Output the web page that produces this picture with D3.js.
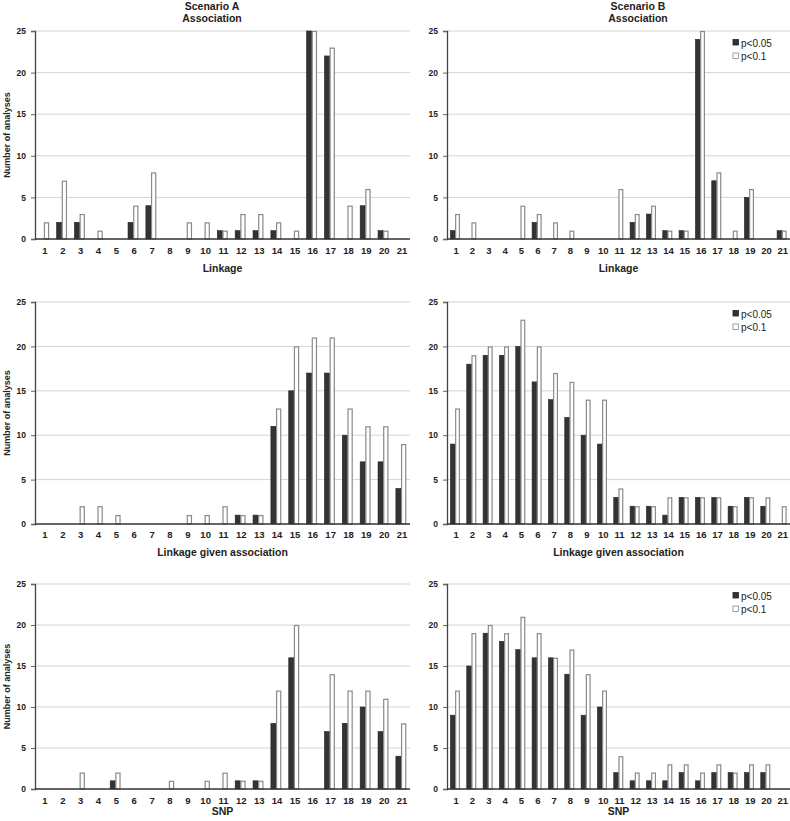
<!DOCTYPE html>
<html>
<head>
<meta charset="utf-8">
<script src="https://cdn.jsdelivr.net/npm/d3@7/dist/d3.min.js"></script>
<style>
  html, body { margin: 0; padding: 0; background: #fff; }
  svg { display: block; }
  text { font-family: "Liberation Sans", Arial, sans-serif; fill: #222; }
</style>
</head>
<body>
<script>
// ---- Data ----
const categories = d3.range(1, 22).map(String);
const yTicks = [0, 5, 10, 15, 20, 25];
const seriesNames = ["p<0.05", "p<0.1"];

// Scenario A
const aAssoc05 = [0,2,2,0,0,2,4,0,0,0,1,1,1,1,0,25,22,0,4,1,0];
const aAssoc10 = [2,7,3,1,0,4,8,0,2,2,1,3,3,2,1,25,23,4,6,1,0];
const aLga05   = [0,0,0,0,0,0,0,0,0,0,0,1,1,11,15,17,17,10,7,7,4];
const aLga10   = [0,0,2,2,1,0,0,0,1,1,2,1,1,13,20,21,21,13,11,11,9];
const aSnp05   = [0,0,0,0,1,0,0,0,0,0,0,1,1,8,16,0,7,8,10,7,4];
const aSnp10   = [0,0,2,0,2,0,0,1,0,1,2,1,1,12,20,0,14,12,12,11,8];

// Scenario B
const bAssoc05 = [1,0,0,0,0,2,0,0,0,0,0,2,3,1,1,24,7,0,5,0,1];
const bAssoc10 = [3,2,0,0,4,3,2,1,0,0,6,3,4,1,1,25,8,1,6,0,1];
const bLga05   = [9,18,19,19,20,16,14,12,10,9,3,2,2,1,3,3,3,2,3,2,0];
const bLga10   = [13,19,20,20,23,20,17,16,14,14,4,2,2,3,3,3,3,2,3,3,2];
const bSnp05   = [9,15,19,18,17,16,16,14,9,10,2,1,1,1,2,1,2,2,2,2,0];
const bSnp10   = [12,19,20,19,21,19,16,17,14,12,4,2,2,3,3,2,3,2,3,3,0];

const W = 790, H = 821;
const svg = d3.select("body").append("svg").attr("width", W).attr("height", H);

const colA = {x0: 35, x1: 410};
const colB = {x0: 447, x1: 790};
const rows = [
  {y0: 239, y1: 31, tickY: 254, labY: 272, label: "Linkage"},
  {y0: 524, y1: 302, tickY: 538, labY: 556, label: "Linkage given association"},
  {y0: 789, y1: 584, tickY: 804, labY: 815, label: "SNP"}
];

function panel(col, row, d05, d10, opts) {
  const g = svg.append("g");
  const x = d3.scaleBand().domain(categories).range([col.x0, col.x1]).padding(0);
  const y = d3.scaleLinear().domain([0, 25]).range([row.y0, row.y1]);
  const bw = x.bandwidth() * 0.29;

  // gridlines
  g.append("g").selectAll("line").data(yTicks.filter(t => t > 0)).join("line")
    .attr("x1", col.x0).attr("x2", col.x1)
    .attr("y1", d => y(d)).attr("y2", d => y(d))
    .attr("stroke", "#d4d4d4").attr("stroke-width", 1);

  // bars
  const data = categories.map((c, i) => ({c, v05: d05[i], v10: d10[i]}));
  g.append("g").selectAll("rect").data(data.filter(d => d.v05 > 0)).join("rect")
    .attr("x", d => x(d.c) + x.bandwidth() / 2 - bw)
    .attr("y", d => y(d.v05))
    .attr("width", bw).attr("height", d => y(0) - y(d.v05))
    .attr("fill", "#333").attr("stroke", "#222").attr("stroke-width", 0.6);
  g.append("g").selectAll("rect").data(data.filter(d => d.v10 > 0)).join("rect")
    .attr("x", d => x(d.c) + x.bandwidth() / 2 + 0.5)
    .attr("y", d => y(d.v10) + 0.5)
    .attr("width", bw - 1).attr("height", d => y(0) - y(d.v10) - 0.5)
    .attr("fill", "#fff").attr("stroke", "#8a8a8a").attr("stroke-width", 1.2);

  // y axis
  const ya = g.append("g").attr("transform", `translate(${col.x0},0)`)
    .call(d3.axisLeft(y).tickValues(yTicks).tickSize(4).tickPadding(5));
  ya.select(".domain").attr("stroke", "#444").attr("stroke-width", 1.3);
  ya.selectAll(".tick line").attr("stroke", "#666");
  ya.selectAll(".tick text").style("font-size", "8.5px").style("font-weight", "bold")
    .style("font-family", "'Liberation Sans', Arial, sans-serif").attr("fill", "#222");

  // x baseline
  g.append("line").attr("x1", col.x0).attr("x2", col.x1)
    .attr("y1", y(0)).attr("y2", y(0)).attr("stroke", "#333").attr("stroke-width", 1.6);

  // x tick labels
  g.append("g").selectAll("text").data(categories).join("text")
    .attr("x", d => x(d) + x.bandwidth() / 2 + 1)
    .attr("y", row.tickY)
    .attr("text-anchor", "middle")
    .style("font-size", "9.5px").style("font-weight", "bold")
    .text(d => d);

  // x label
  g.append("text").attr("x", (col.x0 + col.x1) / 2 + (opts.labDx || 0)).attr("y", row.labY)
    .attr("text-anchor", "middle").style("font-size", "10.5px").style("font-weight", "bold")
    .text(row.label);

  if (opts.ylabel) {
    g.append("text")
      .attr("transform", `translate(10,${(row.y0 + row.y1) / 2}) rotate(-90)`)
      .attr("text-anchor", "middle").style("font-size", "9px").style("font-weight", "bold")
      .text("Number of analyses");
  }

  if (opts.legend) {
    const lg = g.append("g").attr("transform", `translate(733,${row.y1 + 12})`);
    seriesNames.forEach((s, i) => {
      const yy = i * 13.5;
      lg.append("rect").attr("x", 0).attr("y", yy - 3.5).attr("width", 5.5).attr("height", 5.5)
        .attr("fill", i === 0 ? "#333" : "#fff").attr("stroke", i === 0 ? "#222" : "#888").attr("stroke-width", 0.8);
      lg.append("text").attr("x", 8).attr("y", yy + 3.5).style("font-size", "10px").text(s);
    });
  }
}

panel(colA, rows[0], aAssoc05, aAssoc10, {ylabel: true, labDx: 0});
panel(colB, rows[0], bAssoc05, bAssoc10, {legend: true, labDx: 0});
panel(colA, rows[1], aLga05, aLga10, {ylabel: true});
panel(colB, rows[1], bLga05, bLga10, {legend: true});
panel(colA, rows[2], aSnp05, aSnp10, {ylabel: true});
panel(colB, rows[2], bSnp05, bSnp10, {legend: true});

// Column titles
[["Scenario A", 212], ["Scenario B", 638]].forEach(([t, cx]) => {
  svg.append("text").attr("x", cx).attr("y", 10).attr("text-anchor", "middle")
    .style("font-size", "10.5px").style("font-weight", "bold").text(t);
  svg.append("text").attr("x", cx).attr("y", 22).attr("text-anchor", "middle")
    .style("font-size", "10.5px").style("font-weight", "bold").text("Association");
});
</script>
</body>
</html>
